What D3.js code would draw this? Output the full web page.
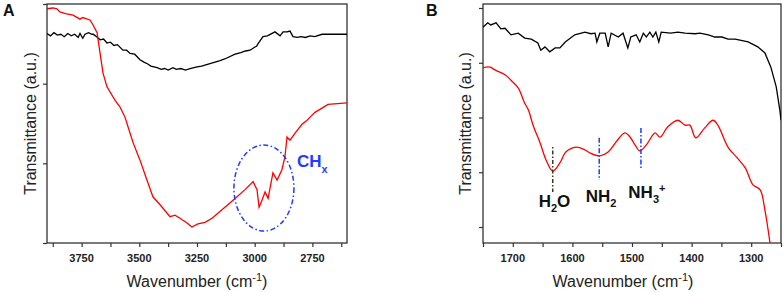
<!DOCTYPE html>
<html>
<head>
<meta charset="utf-8">
<script src="https://cdn.jsdelivr.net/npm/d3@7"></script>
<style>
  body { margin: 0; background: #fff; }
  svg { display: block; font-family: "Liberation Sans", Arial, sans-serif; }
  .tick-label { font-size: 11px; font-weight: bold; fill: #222; }
  .axis-title { font-size: 16px; fill: #222; }
  .panel-label { font-size: 16px; font-weight: bold; fill: #111; }
</style>
</head>
<body>
<script>
// ---- data (wavenumber, transmittance a.u.) ----
const blackA = [
  [3900,2.63],[3885,2.60],[3870,2.64],[3855,2.61],[3840,2.62],[3825,2.59],[3810,2.63],[3795,2.60],
  [3780,2.62],[3765,2.58],[3757,2.63],[3745,2.57],[3735,2.62],[3720,2.64],[3705,2.62],[3700,2.62],
  [3690,2.60],[3670,2.55],[3655,2.56],[3640,2.51],[3625,2.52],[3610,2.48],[3595,2.49],[3571,2.42],
  [3555,2.42],[3540,2.38],[3520,2.37],[3497,2.30],[3480,2.27],[3465,2.25],[3450,2.22],[3423,2.20],
  [3405,2.18],[3390,2.19],[3375,2.17],[3354,2.20],[3340,2.18],[3320,2.19],[3300,2.17],[3280,2.19],
  [3250,2.21],[3230,2.22],[3172,2.27],[3150,2.29],[3130,2.31],[3085,2.37],[3060,2.39],[3040,2.41],
  [3020,2.42],[2999,2.46],[2992,2.47],[2986,2.50],[2964,2.59],[2945,2.60],[2912,2.65],[2890,2.60],
  [2877,2.65],[2860,2.65],[2847,2.66],[2834,2.59],[2815,2.58],[2800,2.59],[2780,2.58],[2760,2.60],
  [2740,2.59],[2708,2.62],[2680,2.62],[2650,2.62],[2600,2.62]
];
const redA = [
  [3900,2.94],[3874,2.95],[3857,2.94],[3844,2.90],[3820,2.88],[3787,2.86],[3757,2.81],[3745,2.83],
  [3714,2.80],[3701,2.74],[3683,2.64],[3670,2.38],[3657,2.13],[3640,1.96],[3605,1.79],[3584,1.71],
  [3562,1.58],[3549,1.46],[3527,1.26],[3497,1.04],[3467,0.79],[3441,0.58],[3410,0.48],[3367,0.33],
  [3345,0.35],[3324,0.31],[3293,0.25],[3272,0.20],[3246,0.24],[3215,0.26],[3185,0.31],[3129,0.45],
  [3085,0.56],[3042,0.67],[3007,0.77],[2990,0.67],[2981,0.45],[2968,0.54],[2955,0.64],[2942,0.56],
  [2921,0.88],[2903,0.79],[2882,0.92],[2869,1.08],[2860,1.33],[2847,1.29],[2825,1.38],[2795,1.49],
  [2773,1.54],[2760,1.58],[2739,1.64],[2682,1.74],[2600,1.76]
];
const blackB = [
  [1750,3.65],[1742,3.73],[1737,3.69],[1728,3.73],[1720,3.62],[1713,3.63],[1703,3.51],[1691,3.54],
  [1680,3.45],[1669,3.43],[1658,3.36],[1653,3.23],[1646,3.29],[1638,3.20],[1629,3.27],[1621,3.27],
  [1612,3.38],[1596,3.51],[1579,3.56],[1569,3.53],[1562,3.54],[1559,3.38],[1554,3.54],[1545,3.54],
  [1540,3.29],[1535,3.54],[1523,3.47],[1515,3.54],[1507,3.27],[1502,3.47],[1493,3.51],[1487,3.38],
  [1481,3.54],[1476,3.47],[1470,3.56],[1465,3.47],[1460,3.56],[1455,3.38],[1451,3.56],[1435,3.54],
  [1423,3.56],[1411,3.54],[1394,3.53],[1386,3.54],[1372,3.51],[1361,3.47],[1349,3.47],[1339,3.43],
  [1327,3.43],[1305,3.38],[1289,3.29],[1277,3.18],[1267,2.92],[1258,2.56],[1252,2.14],[1250,1.95]
];
const redB = [
  [1750,2.90],[1745,2.92],[1738,2.92],[1730,2.87],[1713,2.78],[1703,2.68],[1691,2.54],[1680,2.26],
  [1674,2.14],[1666,1.86],[1654,1.53],[1644,1.22],[1633,1.02],[1621,1.17],[1611,1.37],[1594,1.46],
  [1579,1.41],[1570,1.35],[1554,1.30],[1540,1.37],[1527,1.55],[1512,1.72],[1503,1.64],[1495,1.50],
  [1487,1.39],[1476,1.50],[1461,1.72],[1453,1.64],[1440,1.83],[1423,1.95],[1411,1.86],[1403,1.86],
  [1393,1.63],[1378,1.81],[1364,1.95],[1356,1.86],[1339,1.46],[1325,1.28],[1310,1.08],[1297,0.77],
  [1285,0.68],[1277,0.31],[1268,-0.33]
];

const ticksA = [3875,3750,3625,3500,3375,3250,3125,3000,2875,2750,2625];
const labelsA = [3750,3500,3250,3000,2750];
const yTicksA = [0,1,2,3];
const ticksB = [1750,1700,1650,1600,1550,1500,1450,1400,1350,1300,1250];
const labelsB = [1700,1600,1500,1400,1300];
const yTicksB = [0,1,2,3,4];

// band markers in panel B
const bandsB = [
  {name:'H2O', wn:1633, y0:1.46, y1:0.64, color:'#3a3a1a', dash:'1.5,2,4,2'},
  {name:'NH2', wn:1555, y0:1.63, y1:0.86, color:'#1f3cff', dash:'5,2,1.5,2'},
  {name:'NH3', wn:1485, y0:1.81, y1:1.04, color:'#1f3cff', dash:'5,2,1.5,2'}
];

const W = 784, H = 292;
const svg = d3.select('body').append('svg').attr('width', W).attr('height', H);

const makePanel = (opt) => {
  const x = d3.scaleLinear().domain(opt.xDomain).range([opt.left, opt.right]);
  const y = d3.scaleLinear().domain(opt.yDomain).range([opt.bottom, opt.top]);
  const g = svg.append('g');

  g.append('clipPath').attr('id', opt.id + '-clip')
    .append('rect')
    .attr('x', opt.left).attr('y', opt.top)
    .attr('width', opt.right - opt.left).attr('height', opt.bottom - opt.top);

  const xAxis = g.append('g')
    .attr('transform', `translate(0,${opt.bottom})`)
    .call(d3.axisBottom(x).tickValues(opt.xTicks).tickSize(4).tickFormat(''));
  xAxis.select('.domain').remove();
  xAxis.selectAll('.tick line').attr('stroke', '#333').attr('stroke-width', 1.2);

  g.selectAll('.xlab').data(opt.xLabels).enter().append('text')
    .attr('class', 'tick-label')
    .attr('x', d => x(d)).attr('y', 262)
    .attr('text-anchor', 'middle')
    .text(d => d);

  const yAxis = g.append('g')
    .attr('transform', `translate(${opt.left},0)`)
    .call(d3.axisLeft(y).tickValues(opt.yTicks).tickSize(4).tickFormat(''));
  yAxis.select('.domain').remove();
  yAxis.selectAll('.tick line').attr('stroke', '#333').attr('stroke-width', 1.2);

  g.append('rect')
    .attr('x', opt.left).attr('y', opt.top)
    .attr('width', opt.right - opt.left).attr('height', opt.bottom - opt.top)
    .attr('fill', 'none').attr('stroke', '#333').attr('stroke-width', 1.3);

  const line = d3.line().x(d => x(d[0])).y(d => y(d[1]));
  const smooth = d3.line().x(d => x(d[0])).y(d => y(d[1])).curve(d3.curveCatmullRom);
  const curves = g.append('g').attr('clip-path', `url(#${opt.id}-clip)`);
  curves.append('path').datum(opt.black).attr('d', line)
    .attr('fill', 'none').attr('stroke', '#000').attr('stroke-width', 1.3);
  curves.append('path').datum(opt.red).attr('d', opt.smoothRed ? smooth : line)
    .attr('fill', 'none').attr('stroke', '#ff0000').attr('stroke-width', 1.3);

  const xt = g.append('text').attr('class', 'axis-title')
    .attr('x', opt.xTitleX).attr('y', 287).attr('text-anchor', 'middle');
  xt.append('tspan').text('Wavenumber (cm');
  xt.append('tspan').attr('dy', -6).style('font-size', '11px').text('-1');
  xt.append('tspan').attr('dy', 6).text(')');

  g.append('text').attr('class', 'axis-title')
    .attr('transform', `translate(${opt.yTitleX},${(opt.top + opt.bottom) / 2}) rotate(-90)`)
    .attr('text-anchor', 'middle')
    .text('Transmittance (a.u.)');

  g.append('text').attr('class', 'panel-label')
    .attr('x', opt.labelX).attr('y', 16).text(opt.label);

  return {g, x, y};
};

// ---- panel A ----
const A = makePanel({
  id: 'pa', label: 'A', labelX: 3,
  left: 47, right: 347, top: 4, bottom: 243,
  xDomain: [3900, 2600], yDomain: [0, 3],
  xTicks: ticksA, xLabels: labelsA, yTicks: yTicksA,
  black: blackA, red: redA, xTitleX: 197, yTitleX: 36
});

const chCenter = [2960, 0.69];
const chRadius = [130, 0.54];
A.g.append('ellipse')
  .attr('cx', A.x(chCenter[0])).attr('cy', A.y(chCenter[1]))
  .attr('rx', Math.abs(A.x(chCenter[0] - chRadius[0]) - A.x(chCenter[0])))
  .attr('ry', Math.abs(A.y(chCenter[1] + chRadius[1]) - A.y(chCenter[1])))
  .attr('fill', 'none').attr('stroke', '#1f3cff').attr('stroke-width', 1.5)
  .attr('stroke-dasharray', '5,2.5,1.5,2.5');

const ch = A.g.append('text')
  .attr('x', A.x(2817)).attr('y', A.y(0.95))
  .attr('fill', '#1f3cff').style('font-weight', 'bold').style('font-size', '17px');
ch.append('tspan').text('CH');
ch.append('tspan').attr('dy', 6).style('font-size', '11px').text('x');

// ---- panel B ----
const B = makePanel({
  id: 'pb', label: 'B', labelX: 426,
  left: 483, right: 781, top: 4, bottom: 243,
  xDomain: [1750, 1250], yDomain: [-0.292, 4.073],
  xTicks: ticksB, xLabels: labelsB, yTicks: yTicksB,
  black: blackB, red: redB, smoothRed: true, xTitleX: 623, yTitleX: 471
});

B.g.selectAll('.band').data(bandsB).enter().append('line')
  .attr('x1', d => B.x(d.wn)).attr('x2', d => B.x(d.wn))
  .attr('y1', d => B.y(d.y0)).attr('y2', d => B.y(d.y1))
  .attr('stroke', d => d.color).attr('stroke-width', 1.5)
  .attr('stroke-dasharray', d => d.dash);

const bandText = (wn, yv, main, sub, sup) => {
  const t = B.g.append('text')
    .attr('x', B.x(wn)).attr('y', B.y(yv))
    .attr('text-anchor', 'middle')
    .attr('fill', '#111').style('font-weight', 'bold').style('font-size', '17px');
  t.append('tspan').text(main[0]);
  t.append('tspan').attr('dy', 5).style('font-size', '11px').text(sub);
  if (main[1]) t.append('tspan').attr('dy', -5).text(main[1]);
  if (sup) t.append('tspan').attr('dy', -11).style('font-size', '11px').text(sup);
};
bandText(1630, 0.37, ['H', 'O'], '2');
bandText(1552, 0.46, ['NH'], '2');
bandText(1475, 0.53, ['NH'], '3', '+');
</script>
</body>
</html>
